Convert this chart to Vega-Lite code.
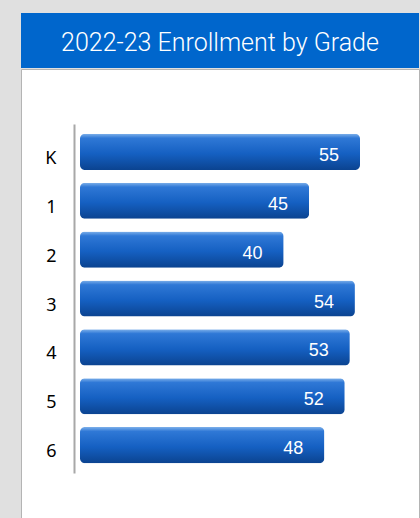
{
  "$schema": "https://vega.github.io/schema/vega-lite/v6.json",
  "background": "#e0e0e0",
  "padding": {"left": 20, "top": 13, "right": 2, "bottom": 0},
  "spacing": 0,
  "config": {"view": {"stroke": null}, "concat": {"spacing": 0}},
  "datasets": {
    "grades": [
      {"grade": "K", "count": 55},
      {"grade": "1", "count": 45},
      {"grade": "2", "count": 40},
      {"grade": "3", "count": 54},
      {"grade": "4", "count": 53},
      {"grade": "5", "count": 52},
      {"grade": "6", "count": 48}
    ],
    "title": [{"t": "2022-23 Enrollment by Grade"}]
  },
  "vconcat": [
    {
      "width": 398,
      "height": 55,
      "view": {"fill": "#0066cc", "stroke": null},
      "data": {"name": "title"},
      "mark": {"type": "text", "color": "white", "fontSize": 25, "font": "Roboto", "fontWeight": 300, "baseline": "middle", "dy": 2},
      "encoding": {"text": {"field": "t", "type": "nominal"}}
    },
    {
      "width": 398,
      "height": 450,
      "view": {"fill": "white", "stroke": "#b4b4b4"},
      "data": {"name": "grades"},
      "encoding": {
        "y": {
          "field": "grade", "type": "nominal",
          "sort": ["K", "1", "2", "3", "4", "5", "6"],
          "scale": {"range": [55, 404], "paddingInner": 0.26, "paddingOuter": 0.2},
          "axis": {
            "title": null, "offset": -53, "ticks": false,
            "domainColor": "#a8a8a8", "domainWidth": 2,
            "labelPadding": 18, "labelOffset": 7,
            "labelFont": "Noto Sans", "labelFontSize": 18, "labelColor": "#000000"
          }
        },
        "x": {
          "field": "count", "type": "quantitative",
          "scale": {"domain": [0, 55], "range": [59, 339], "nice": false, "zero": true},
          "axis": null
        }
      },
      "layer": [
        {
          "mark": {
            "type": "bar", "cornerRadius": 5,
            "color": {
              "gradient": "linear", "x1": 0, "y1": 0, "x2": 0, "y2": 1,
              "stops": [
                {"offset": 0, "color": "#7db0ea"},
                {"offset": 0.12, "color": "#2f78d6"},
                {"offset": 0.55, "color": "#1560c2"},
                {"offset": 1, "color": "#0b4390"}
              ]
            }
          }
        },
        {
          "mark": {"type": "text", "align": "right", "baseline": "middle", "dx": -21, "dy": 4, "color": "white", "font": "Liberation Sans", "fontSize": 18},
          "encoding": {"text": {"field": "count", "type": "quantitative"}}
        }
      ]
    }
  ]
}
